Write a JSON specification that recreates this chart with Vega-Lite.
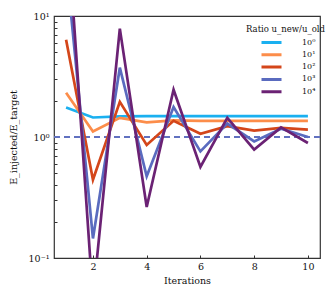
{
  "$schema": "https://vega.github.io/schema/vega-lite/v6.json",
  "autosize": "none",
  "width": 266,
  "height": 242,
  "padding": {"left": 54, "top": 16, "right": 12, "bottom": 42},
  "background": "white",
  "config": {
    "font": "DejaVu Serif",
    "view": {"stroke": "#333333", "strokeWidth": 1.2},
    "axis": {"grid": false, "domain": false, "tickColor": "#333333", "labelColor": "#111111", "titleColor": "#111111", "labelFontSize": 9.5, "titleFontSize": 9.5, "titleFontWeight": "normal"}
  },
  "data": {"values": [
    {"iter": 1, "ratio": "10⁰", "value": 1.75},
    {"iter": 2, "ratio": "10⁰", "value": 1.45},
    {"iter": 3, "ratio": "10⁰", "value": 1.48},
    {"iter": 4, "ratio": "10⁰", "value": 1.49},
    {"iter": 5, "ratio": "10⁰", "value": 1.49},
    {"iter": 6, "ratio": "10⁰", "value": 1.49},
    {"iter": 7, "ratio": "10⁰", "value": 1.49},
    {"iter": 8, "ratio": "10⁰", "value": 1.49},
    {"iter": 9, "ratio": "10⁰", "value": 1.49},
    {"iter": 10, "ratio": "10⁰", "value": 1.49},
    {"iter": 1, "ratio": "10¹", "value": 2.32},
    {"iter": 2, "ratio": "10¹", "value": 1.11},
    {"iter": 3, "ratio": "10¹", "value": 1.44},
    {"iter": 4, "ratio": "10¹", "value": 1.32},
    {"iter": 5, "ratio": "10¹", "value": 1.37},
    {"iter": 6, "ratio": "10¹", "value": 1.36},
    {"iter": 7, "ratio": "10¹", "value": 1.36},
    {"iter": 8, "ratio": "10¹", "value": 1.36},
    {"iter": 9, "ratio": "10¹", "value": 1.36},
    {"iter": 10, "ratio": "10¹", "value": 1.36},
    {"iter": 1, "ratio": "10²", "value": 6.37},
    {"iter": 2, "ratio": "10²", "value": 0.444},
    {"iter": 3, "ratio": "10²", "value": 1.95},
    {"iter": 4, "ratio": "10²", "value": 0.86},
    {"iter": 5, "ratio": "10²", "value": 1.36},
    {"iter": 6, "ratio": "10²", "value": 1.065},
    {"iter": 7, "ratio": "10²", "value": 1.23},
    {"iter": 8, "ratio": "10²", "value": 1.13},
    {"iter": 9, "ratio": "10²", "value": 1.19},
    {"iter": 10, "ratio": "10²", "value": 1.15},
    {"iter": 1, "ratio": "10³", "value": 27},
    {"iter": 2, "ratio": "10³", "value": 0.145},
    {"iter": 3, "ratio": "10³", "value": 3.74},
    {"iter": 4, "ratio": "10³", "value": 0.473},
    {"iter": 5, "ratio": "10³", "value": 1.77},
    {"iter": 6, "ratio": "10³", "value": 0.76},
    {"iter": 7, "ratio": "10³", "value": 1.29},
    {"iter": 8, "ratio": "10³", "value": 0.92},
    {"iter": 9, "ratio": "10³", "value": 1.17},
    {"iter": 10, "ratio": "10³", "value": 1.0},
    {"iter": 1, "ratio": "10⁴", "value": 80},
    {"iter": 2, "ratio": "10⁴", "value": 0.046},
    {"iter": 3, "ratio": "10⁴", "value": 7.86},
    {"iter": 4, "ratio": "10⁴", "value": 0.264},
    {"iter": 5, "ratio": "10⁴", "value": 2.46},
    {"iter": 6, "ratio": "10⁴", "value": 0.565},
    {"iter": 7, "ratio": "10⁴", "value": 1.44},
    {"iter": 8, "ratio": "10⁴", "value": 0.786},
    {"iter": 9, "ratio": "10⁴", "value": 1.2},
    {"iter": 10, "ratio": "10⁴", "value": 0.892}
  ]},
  "layer": [
    {
      "mark": {"type": "rule", "strokeDash": [6, 4], "strokeWidth": 1.3, "color": "#6272c0"},
      "encoding": {"y": {"datum": 1, "type": "quantitative"}}
    },
    {
      "mark": {"type": "line", "strokeWidth": 2.7, "clip": true},
      "encoding": {
        "x": {"field": "iter", "type": "quantitative",
          "scale": {"domain": [0.55, 10.45], "nice": false, "zero": false},
          "axis": {"values": [2, 4, 6, 8, 10], "tickSize": -3, "labelPadding": 6, "title": "Iterations", "titlePadding": 5}},
        "y": {"field": "value", "type": "quantitative",
          "scale": {"type": "log", "domain": [0.1, 10], "nice": false},
          "axis": {"values": [0.1, 0.2, 0.3, 0.4, 0.5, 0.6, 0.7, 0.8, 0.9, 1, 2, 3, 4, 5, 6, 7, 8, 9, 10],
            "labelExpr": "datum.value == 0.1 ? '10⁻¹' : datum.value == 1 ? '10⁰' : datum.value == 10 ? '10¹' : ''",
            "tickSize": -3, "labelPadding": 8, "title": "E_injected/E_target", "titlePadding": 10}},
        "color": {"field": "ratio", "type": "nominal",
          "scale": {"domain": ["10⁰", "10¹", "10²", "10³", "10⁴"], "range": ["#1ab0f0", "#fc8d4a", "#d4461a", "#5a6bbf", "#6b2274"]},
          "legend": {"title": "Ratio u_new/u_old", "orient": "none", "legendX": 192, "legendY": 9,
            "symbolType": "stroke", "symbolStrokeWidth": 3, "symbolSize": 400, "symbolOffset": 14, "labelOffset": 19,
            "labelFontSize": 8, "titleFontSize": 8.5, "titleFontWeight": "normal", "titleColor": "#111111", "labelColor": "#111111",
            "clipHeight": 12, "rowPadding": 0.3, "titlePadding": 3, "padding": 0}}
      }
    }
  ]
}
